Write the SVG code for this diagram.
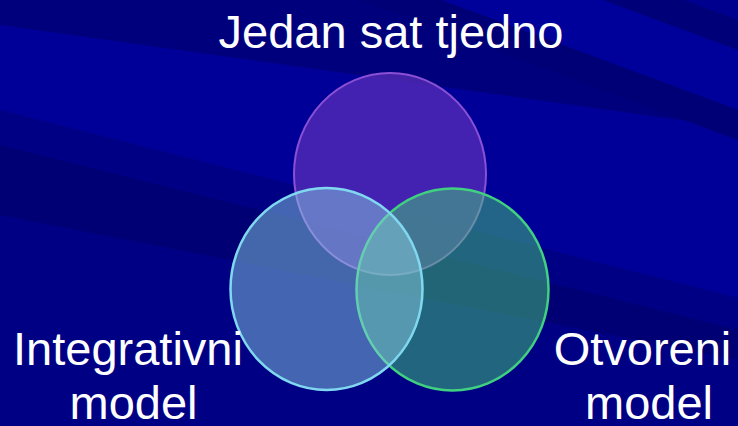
<svg xmlns="http://www.w3.org/2000/svg" width="738" height="426" viewBox="0 0 738 426">
<style>
.lbl{font-family:"Liberation Sans",Arial,sans-serif;font-size:47px;fill:#ffffff;text-anchor:middle}
</style>
<g id="background">
<rect x="0" y="0" width="738" height="426" fill="#000088"/>
<polygon points="0,0 738,0 738,128 0,25" fill="#00007c"/>
<polygon points="0,25 738,128 738,298 0,110" fill="#000098"/>
<polygon points="0,110 738,298 738,330 0,145" fill="#000084"/>
<polygon points="0,145 738,330 738,360 0,215" fill="#000074"/>
<polygon points="0,215 738,360 738,426 0,426" fill="#000084"/>
<polygon points="441,0 738,0 738,110" fill="#00009a"/>
<polygon points="684,0 738,0 738,20" fill="#00008e"/>
<polygon points="603,0 684,0 738,20 738,50" fill="#000078"/>
<polygon points="360,0 441,0 738,110 738,140" fill="#000076"/>
</g>
<g id="node-top">
<ellipse cx="390" cy="174" rx="96" ry="101" fill="#5a2dba" fill-opacity="0.75" stroke="#8a50d4" stroke-width="2"/>
<text class="lbl" x="391" y="48">Jedan sat tjedno</text>
</g>
<g id="node-right">
<ellipse cx="452.5" cy="289.5" rx="96" ry="101" fill="#44ca7a" fill-opacity="0.5" stroke="#40d080" stroke-width="2.5"/>
<text class="lbl" x="642.5" y="365">Otvoreni</text>
<text class="lbl" x="649" y="419">model</text>
</g>
<g id="node-left">
<ellipse cx="326.5" cy="289" rx="96" ry="101" fill="#88cce0" fill-opacity="0.5" stroke="#80d8f0" stroke-width="2.5"/>
<text class="lbl" x="128" y="365">Integrativni</text>
<text class="lbl" x="133.5" y="419">model</text>
</g>
</svg>
